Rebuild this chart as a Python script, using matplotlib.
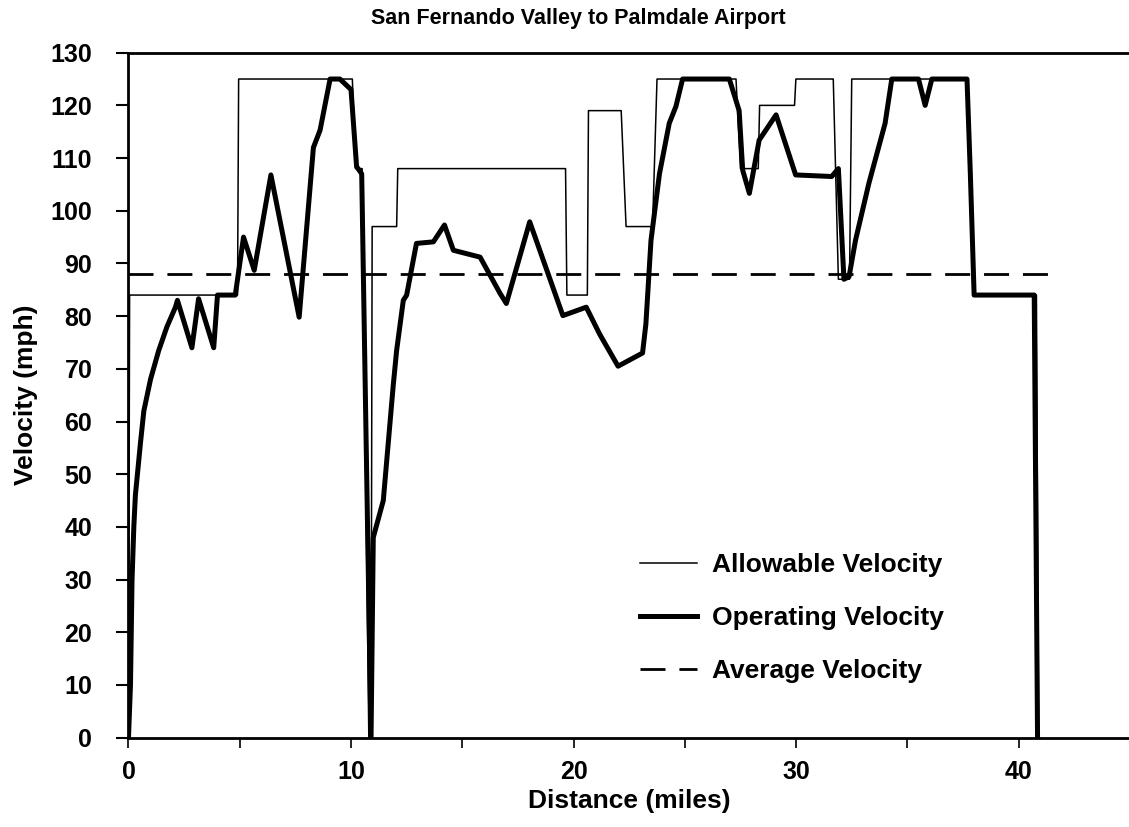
import matplotlib.pyplot as plt
import numpy as np

plt.rcParams['font.family'] = ['Liberation Sans', 'DejaVu Sans']
plt.rcParams['font.weight'] = 'bold'
plt.rcParams['axes.labelweight'] = 'bold'

# allowable (thin step line)
allow_x = [0.0, 0.05, 4.9, 4.95, 10.06, 10.2, 10.5, 10.8, 10.9, 10.95, 12.05, 12.1,
           19.64, 19.7, 20.62, 20.67, 22.14, 22.36, 23.55, 23.75, 27.3, 27.5, 28.3, 28.36,
           29.93, 29.99, 31.67, 31.9, 32.4, 32.5, 37.7, 37.95, 40.8, 40.9]
allow_v = [0, 84, 84, 125, 125, 108, 108, 0, 0, 97, 97, 108,
           108, 84, 84, 119, 119, 97, 97, 125, 125, 108, 108, 120,
           120, 125, 125, 87, 87, 125, 125, 84, 84, 0]

# operating (thick line)
oper_x = [0.0, 0.09, 0.16, 0.24, 0.31, 0.54, 0.69, 0.99, 1.36, 1.73, 2.11, 2.2,
          2.85, 3.15, 3.83, 4.0, 4.8, 5.17, 5.65, 6.4, 7.67, 8.31, 8.61, 9.06,
          9.5, 10.0, 10.25, 10.48, 10.9, 11.0, 11.45, 11.9, 12.05, 12.35, 12.5,
          12.94, 13.7, 14.2, 14.6, 15.8, 16.7, 16.98, 18.03, 19.52, 20.57, 21.17,
          22.0, 23.1, 23.25, 23.48, 23.86, 24.3, 24.6, 24.9, 27.0, 27.44, 27.6,
          27.9, 28.34, 29.1, 29.98, 31.6, 31.9, 32.15, 32.38, 32.67, 33.27, 34.0,
          34.3, 35.5, 35.8, 36.1, 37.68, 37.83, 38.0, 40.7, 40.85]
oper_v = [0, 10, 30, 40, 46, 56, 62, 68, 73.5, 78, 81.7, 83,
          74, 83.3, 74, 84, 84, 95, 88.7, 106.8, 79.8, 112, 115.3, 125,
          125, 123, 108.4, 107, 0, 38, 45, 67, 73.5, 83, 84,
          93.8, 94.1, 97.3, 92.5, 91.2, 84.3, 82.4, 97.9, 80.1, 81.7, 76.6,
          70.5, 73, 78.5, 94.4, 107, 116.6, 119.8, 125, 125, 119, 107.7,
          103.3, 113.4, 118.2, 106.8, 106.5, 108, 87, 87.5, 94.4, 105.2, 116.6,
          125, 125, 120, 125, 125, 107, 84, 84, 0]

avg_x = [0.0, 41.3]
avg_v = [88, 88]

fig = plt.figure(figsize=(11.29, 8.27), dpi=100)
ax = fig.add_axes([0.1138, 0.108, 0.887, 0.8283])

ax.plot(allow_x, allow_v, color='black', lw=1.1, label='Allowable Velocity')
ax.plot(oper_x, oper_v, color='black', lw=3.6, solid_joinstyle='round',
        label='Operating Velocity')
ax.plot(avg_x, avg_v, color='black', lw=2.0, dashes=(9, 5), label='Average Velocity')

ax.set_xlim(0, 45)
ax.set_ylim(0, 130)
ax.set_xticks(np.arange(0, 46, 5))
ax.set_xticklabels(['0', '', '10', '', '20', '', '30', '', '40', ''])
ax.set_yticks(np.arange(0, 131, 10))
ax.tick_params(axis='y', direction='out', length=9, width=1.5, labelsize=18, pad=17)
ax.tick_params(axis='x', direction='out', length=7, width=1.2, labelsize=18, pad=9)
ax.spines['right'].set_visible(False)
for s in ['left', 'bottom', 'top']:
    ax.spines[s].set_linewidth(2)

ax.set_xlabel('Distance (miles)', fontsize=19, labelpad=4)
ax.set_ylabel('Velocity (mph)', fontsize=19)
ax.yaxis.set_label_coords(-0.09, 0.5)
fig.text(0.512, 0.978, 'San Fernando Valley to Palmdale Airport', ha='center',
         va='center', fontsize=15.5)

ax.legend(loc='upper left', bbox_to_anchor=(640 / 1129, 1 - 553 / 827),
          bbox_transform=fig.transFigure, frameon=False, fontsize=19,
          borderpad=0, borderaxespad=0, handlelength=2.15, handletextpad=0.57,
          labelspacing=1.1)

fig.savefig('out.png', dpi=100)
